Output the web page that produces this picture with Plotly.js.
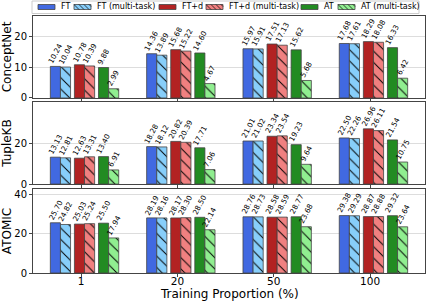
<!DOCTYPE html>
<html><head><meta charset="utf-8">
<script src="https://cdn.plot.ly/plotly-3.0.1.min.js"></script>
<style>html,body{margin:0;padding:0;background:#fff}#chart{width:427px;height:302px}</style>
</head><body><div id="chart"></div>
<script>
// ---- data ----
const proportions = ['1', '20', '50', '100'];
const seriesNames = ['FT', 'FT (multi-task)', 'FT+d', 'FT+d (multi-task)', 'AT', 'AT (multi-task)'];
const datasetNames = ['ConceptNet', 'TupleKB', 'ATOMIC'];

const conceptNetFT      = [10.24, 14.36, 15.97, 17.68];
const conceptNetFTmt    = [10.04, 13.89, 15.91, 17.61];
const conceptNetFTd     = [10.78, 15.68, 17.51, 18.29];
const conceptNetFTdmt   = [10.39, 15.22, 17.13, 18.08];
const conceptNetAT      = [9.88, 14.60, 15.62, 16.33];
const conceptNetATmt    = [2.99, 4.67, 5.68, 6.42];

const tupleKBFT         = [13.13, 18.28, 21.01, 22.50];
const tupleKBFTmt       = [12.81, 18.12, 21.02, 22.26];
const tupleKBFTd        = [12.63, 20.82, 23.34, 26.96];
const tupleKBFTdmt      = [13.31, 20.39, 23.54, 26.11];
const tupleKBAT         = [13.40, 17.71, 19.23, 21.54];
const tupleKBATmt       = [6.91, 7.06, 9.64, 10.75];

const atomicFT          = [25.70, 28.19, 28.76, 29.38];
const atomicFTmt        = [24.82, 28.16, 28.73, 29.29];
const atomicFTd         = [25.03, 28.17, 28.58, 28.87];
const atomicFTdmt       = [25.24, 28.30, 28.59, 28.88];
const atomicAT          = [25.50, 28.50, 28.77, 29.32];
const atomicATmt        = [17.94, 22.14, 23.68, 23.64];

const datasetValues = [
  [conceptNetFT, conceptNetFTmt, conceptNetFTd, conceptNetFTdmt, conceptNetAT, conceptNetATmt],
  [tupleKBFT, tupleKBFTmt, tupleKBFTd, tupleKBFTdmt, tupleKBAT, tupleKBATmt],
  [atomicFT, atomicFTmt, atomicFTd, atomicFTdmt, atomicAT, atomicATmt]
];

// ---- styles ----
const colors = ['#4169E1', '#87CEFA', '#B22222', '#F08080', '#228B22', '#90EE90'];
const hatched = [false, true, false, true, false, true];
const barWidth = 0.105;
const barOffsets = [-0.32, -0.215, -0.07, 0.035, 0.18, 0.285];
const FONT = 'DejaVu Sans, sans-serif';

const W = 427, H = 302;
const M = {l: 33, r: 2, t: 16, b: 29};
const PW = W - M.l - M.r, PH = H - M.t - M.b;
const X = px => (px - M.l) / PW;
const Y = py => (H - M.b - py) / PH;

const domains = [[0.681, 1], [0.346, 0.665], [0, 0.327]];
const yRanges = [[0, 26.6], [0, 40], [0, 43]];
const yTicks = [[0, 10, 20], [0, 20], [0, 20, 40]];

const xIdx = proportions.map((p, i) => i);
const traces = [];
const annotations = [];

datasetValues.forEach((vals, d) => {
  const ax = d === 0 ? '' : String(d + 1);
  vals.forEach((v, s) => {
    const marker = {color: colors[s], line: {color: '#444', width: 0.8}};
    if (hatched[s]) marker.pattern = {shape: '\\', fgcolor: '#000', bgcolor: colors[s], fillmode: 'replace', size: 8, solidity: 0.12};
    traces.push({
      type: 'bar', x: xIdx, y: v, width: barWidth, offset: barOffsets[s],
      marker: marker, name: seriesNames[s], showlegend: false,
      xaxis: 'x' + ax, yaxis: 'y' + ax, hoverinfo: 'skip'
    });
    v.forEach((val, i) => {
      annotations.push({
        x: xIdx[i] + barOffsets[s] + barWidth / 2, y: val,
        xref: 'x' + ax, yref: 'y' + ax,
        text: val.toFixed(2), textangle: -62, showarrow: false,
        xanchor: 'center', yanchor: 'bottom', borderpad: 0,
        font: {family: FONT, size: 7.3, color: '#000'}
      });
    });
  });
});

// ---- manual legend ----
const shapes = [];
shapes.push({type: 'rect', xref: 'paper', yref: 'paper', x0: X(32), x1: X(419), y0: Y(13.5), y1: Y(1),
  line: {color: '#cccccc', width: 1}, fillcolor: 'rgba(255,255,255,0.9)', layer: 'above'});
const legPatchX = [38, 74, 159, 206, 301, 338];
const patchW = 17, pY0 = 4.5, pY1 = 9.5;
seriesNames.forEach((name, s) => {
  const x0 = legPatchX[s], x1 = x0 + patchW;
  shapes.push({type: 'rect', xref: 'paper', yref: 'paper', x0: X(x0), x1: X(x1), y0: Y(pY1), y1: Y(pY0),
    fillcolor: colors[s], line: {color: '#444', width: 0.8}, layer: 'above'});
  if (hatched[s]) {
    const h = pY1 - pY0;
    let path = '';
    for (let t = x0 - h; t < x1; t += 5) {
      let sx = t, sy = pY0, ex = t + h, ey = pY1;
      if (sx < x0) { sy = pY0 + (x0 - sx); sx = x0; }
      if (ex > x1) { ey = pY0 + (x1 - t); ex = x1; }
      if (ex - sx < 0.3) continue;
      path += `M${X(sx)},${Y(sy)}L${X(ex)},${Y(ey)}`;
    }
    shapes.push({type: 'path', xref: 'paper', yref: 'paper', path: path, line: {color: '#000', width: 0.7}, layer: 'above'});
  }
  annotations.push({xref: 'paper', yref: 'paper', x: X(x1 + 5), y: Y((pY0 + pY1) / 2),
    xanchor: 'left', yanchor: 'middle', showarrow: false, text: name, borderpad: 0,
    font: {family: FONT, size: 8, color: '#000'}});
});

// x-axis title
annotations.push({xref: 'paper', yref: 'paper', x: 0.5, y: Y(302), xanchor: 'center', yanchor: 'bottom',
  showarrow: false, text: 'Training Proportion (%)', borderpad: 0, font: {family: FONT, size: 12, color: '#000'}});

const layout = {
  width: W, height: H, margin: M, paper_bgcolor: '#fff', plot_bgcolor: '#fff',
  barmode: 'overlay', showlegend: false,
  font: {family: FONT, size: 10, color: '#000'},
  annotations: annotations, shapes: shapes
};

datasetNames.forEach((name, d) => {
  const ax = d === 0 ? '' : String(d + 1);
  layout['xaxis' + ax] = {
    anchor: 'y' + ax, range: [-0.5, 3.57], tickvals: xIdx, ticktext: proportions,
    showticklabels: d === 2, ticks: 'outside', ticklen: 2.5, tickcolor: '#444',
    ticklabelstandoff: -4,
    showline: true, mirror: true, linecolor: '#444', linewidth: 1,
    showgrid: false, zeroline: false, tickfont: {family: FONT, size: 10.5}
  };
  layout['yaxis' + ax] = {
    anchor: 'x' + ax, domain: domains[d], range: yRanges[d], tickvals: yTicks[d],
    ticks: 'outside', ticklen: 3, tickcolor: '#444',
    showline: true, mirror: true, linecolor: '#444', linewidth: 1,
    showgrid: true, gridcolor: '#dddddd', gridwidth: 1, zeroline: false,
    tickfont: {family: FONT, size: 10},
    title: {text: name, font: {family: FONT, size: 12}, standoff: 5}
  };
});

Plotly.newPlot('chart', traces, layout, {staticPlot: true});
</script>
</body></html>
